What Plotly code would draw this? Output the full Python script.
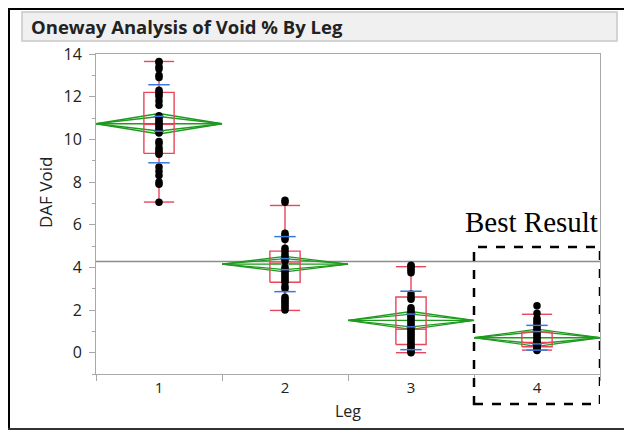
import plotly.graph_objects as go

# ---------------- data ----------------
legs = [1, 2, 3, 4]
leg_labels = ["1", "2", "3", "4"]

void_leg1 = [13.65, 13.6, 13.4, 13.3, 13.0, 12.9, 12.3, 12.2, 12.1, 12.0, 11.8, 11.6,
             11.1, 11.0, 10.9, 10.8, 10.7, 10.6, 10.5, 10.4, 10.3, 9.9, 9.8, 9.6, 9.5,
             9.4, 9.3, 8.7, 8.5, 8.3, 8.0, 7.9, 7.05]
void_leg2 = [7.15, 7.05, 5.6, 5.5, 5.4, 5.3, 4.9, 4.75, 4.6, 4.5, 4.4, 4.3, 4.0, 3.9,
             3.8, 3.7, 3.6, 3.5, 3.4, 3.3, 3.1, 3.0, 2.6, 2.5, 2.4, 2.3, 2.2, 2.1, 2.0]
void_leg3 = [4.1, 4.05, 3.95, 3.85, 3.75, 2.75, 2.6, 2.5, 2.1, 2.0, 1.9, 1.8, 1.7, 1.6,
             1.5, 1.4, 1.3, 1.2, 1.1, 1.0, 0.9, 0.8, 0.7, 0.6, 0.5, 0.4, 0.3, 0.2, 0.1,
             0.05, 0.0]
void_leg4 = [2.2, 1.85, 1.6, 1.5, 1.4, 1.3, 1.2, 1.1, 1.0, 0.9, 0.8, 0.7, 0.6, 0.5,
             0.45, 0.4, 0.35, 0.3, 0.25, 0.2, 0.15, 0.1]

q1 = [9.34, 3.3, 0.38, 0.28]
median = [10.7, 4.2, 1.1, 0.48]
q3 = [12.2, 4.76, 2.61, 0.97]
whisker_lo = [7.06, 1.98, 0.0, 0.12]
whisker_hi = [13.65, 6.9, 4.03, 1.8]
means = [10.73, 4.15, 1.51, 0.7]
ci_half = [0.48, 0.36, 0.42, 0.4]
sd = [1.83, 1.29, 1.37, 0.58]
se = [0.35, 0.26, 0.3, 0.29]
grand_mean = 4.27

# ---------------- style ----------------
RED = "#e8465a"
BLUE = "#3a78e0"
GREEN = "#1e9a1e"
GRAY = "#8c8c8c"
FONT = "Open Sans"

BOX_HW = 0.12
SD_HW = 0.085
SE_HW = 0.04
DIA_HW = 0.5

# page offset of the figure inside the browser body (default body margin)
OFF = 8
PL, PR, PT, PB = 96, 600, 54, 374   # plot area in screen pixels
PW, PH = PR - PL, PB - PT


def px(sx):
    return (sx - PL) / PW


def py(sy):
    return (PB - sy) / PH


points = [void_leg1, void_leg2, void_leg3, void_leg4]

fig = go.Figure()

# grand mean line
fig.add_trace(go.Scatter(x=[0.5, 4.5], y=[grand_mean, grand_mean], mode="lines",
                         line=dict(color=GRAY, width=1.5), hoverinfo="skip"))

# means diamonds
dx, dy = [], []
for x, m, c in zip(legs, means, ci_half):
    inner = c / (2 ** 0.5)
    dx += [x - DIA_HW, x, x + DIA_HW, x, x - DIA_HW, None]
    dy += [m, m + c, m, m - c, m, None]
    dx += [x - DIA_HW, x, x + DIA_HW, x, x - DIA_HW, None]
    dy += [m, m + inner, m, m - inner, m, None]
    dx += [x - DIA_HW, x + DIA_HW, None]
    dy += [m, m, None]
fig.add_trace(go.Scatter(x=dx, y=dy, mode="lines", line=dict(color=GREEN, width=1.3),
                         hoverinfo="skip"))

# box plots
bx, by = [], []
for x, a, md, b, lo, hi in zip(legs, q1, median, q3, whisker_lo, whisker_hi):
    bx += [x - BOX_HW, x + BOX_HW, x + BOX_HW, x - BOX_HW, x - BOX_HW, None]
    by += [a, a, b, b, a, None]
    bx += [x - BOX_HW, x + BOX_HW, None]
    by += [md, md, None]
    bx += [x, x, None, x, x, None]
    by += [b, hi, None, a, lo, None]
    bx += [x - BOX_HW, x + BOX_HW, None, x - BOX_HW, x + BOX_HW, None]
    by += [hi, hi, None, lo, lo, None]
fig.add_trace(go.Scatter(x=bx, y=by, mode="lines", line=dict(color=RED, width=1.4),
                         hoverinfo="skip"))

# points
for x, vals in zip(legs, points):
    fig.add_trace(go.Scatter(x=[x] * len(vals), y=vals, mode="markers",
                             marker=dict(color="black", size=7.5)))

# std dev lines and mean error marks
sx, sy = [], []
for x, m, s, e in zip(legs, means, sd, se):
    sx += [x - SD_HW, x + SD_HW, None, x - SD_HW, x + SD_HW, None]
    sy += [m + s, m + s, None, m - s, m - s, None]
    sx += [x - SE_HW, x + SE_HW, None, x - SE_HW, x + SE_HW, None]
    sy += [m + e, m + e, None, m - e, m - e, None]
fig.add_trace(go.Scatter(x=sx, y=sy, mode="lines", line=dict(color=BLUE, width=1.5),
                         hoverinfo="skip"))

shapes = [
    # header band
    dict(type="rect", xref="paper", yref="paper", x0=px(22), x1=px(617),
         y0=py(41), y1=py(12),
         fillcolor="#f0f0f0", line=dict(color="#c8c8c8", width=1.5), layer="below"),
    # outer black border (left, top, bottom)
    dict(type="line", xref="paper", yref="paper", x0=px(OFF + 1), x1=px(OFF + 1),
         y0=py(429), y1=py(OFF), line=dict(color="black", width=2)),
    dict(type="line", xref="paper", yref="paper", x0=px(OFF), x1=px(645),
         y0=py(OFF + 1), y1=py(OFF + 1), line=dict(color="black", width=2)),
    dict(type="line", xref="paper", yref="paper", x0=px(OFF), x1=px(645),
         y0=py(429), y1=py(429), line=dict(color="#333333", width=2)),
    # dashed highlight box
    dict(type="rect", xref="x", yref="paper", x0=3.5, x1=4.5,
         y0=py(404), y1=py(247),
         line=dict(color="black", width=2.5, dash="dash")),
]

annotations = [
    dict(text="<b>Oneway Analysis of Void % By Leg</b>", xref="paper", yref="paper",
         x=px(29), y=py(27), xanchor="left", yanchor="middle",
         showarrow=False, font=dict(family=FONT, size=18.5, color="#222222")),
    dict(text="Best Result", xref="paper", yref="paper", x=px(531), y=py(222),
         xanchor="center", yanchor="middle", showarrow=False,
         font=dict(family="Liberation Serif", size=29, color="black")),
    dict(text="DAF Void", xref="paper", yref="paper", x=px(45), y=py(193),
         xanchor="center", yanchor="middle", textangle=-90, showarrow=False,
         font=dict(family=FONT, size=17, color="#222222")),
]

fig.update_layout(
    width=632, height=432,
    margin=dict(l=PL - OFF, r=632 - (PR - OFF), t=PT - OFF, b=432 - (PB - OFF)),
    paper_bgcolor="white", plot_bgcolor="white",
    showlegend=False,
    shapes=shapes, annotations=annotations,
    font=dict(family=FONT, size=15, color="#222222"),
    xaxis=dict(range=[0.5, 4.5], tickvals=legs, ticktext=leg_labels, ticks="",
               showgrid=False, zeroline=False, showline=True, mirror=True,
               linecolor="#a8a8a8", linewidth=1,
               minor=dict(tick0=0.5, dtick=1, ticks="outside", ticklen=6,
                          tickcolor="#a8a8a8", showgrid=False),
               title=dict(text="Leg", font=dict(size=16), standoff=9),
               tickfont=dict(size=15)),
    yaxis=dict(range=[-1, 14], tickvals=[0, 2, 4, 6, 8, 10, 12, 14], ticks="outside",
               ticklen=6, tickcolor="#a8a8a8", showgrid=False, zeroline=False,
               showline=True, mirror=True, linecolor="#a8a8a8", linewidth=1,
               minor=dict(dtick=1, tick0=0, ticks="outside", ticklen=3,
                          tickcolor="#a8a8a8", showgrid=False),
               ticklabelstandoff=4,
               tickfont=dict(size=16)),
)

fig.write_html("out.html")
